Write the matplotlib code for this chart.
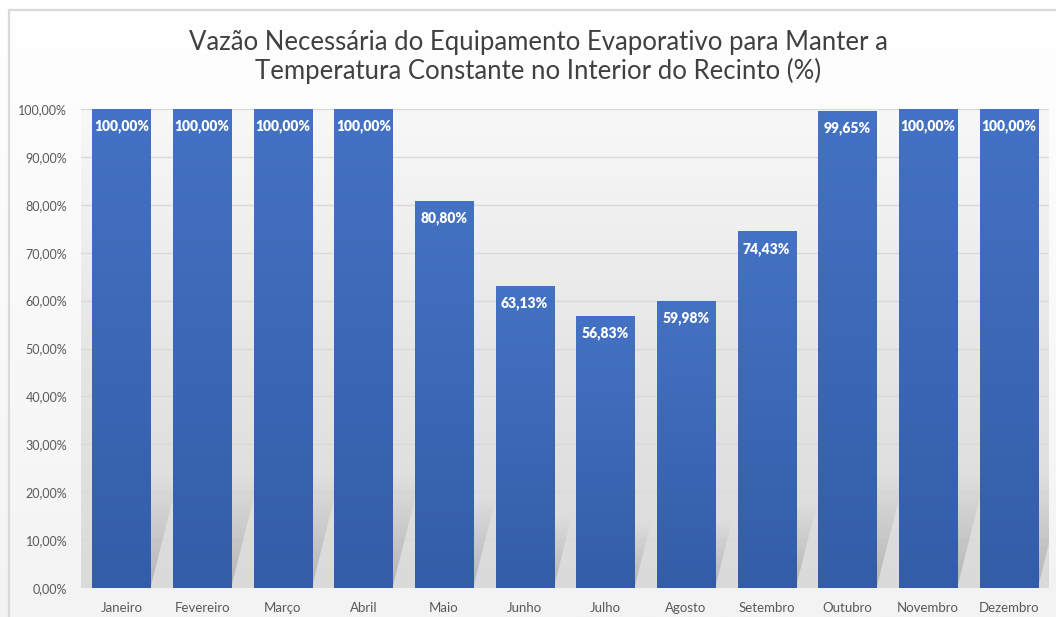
import matplotlib
matplotlib.use("Agg")
import matplotlib.pyplot as plt
import numpy as np
from matplotlib.patches import Rectangle, Polygon
from matplotlib.colors import LinearSegmentedColormap

meses = ["Janeiro", "Fevereiro", "Março", "Abril", "Maio", "Junho",
         "Julho", "Agosto", "Setembro", "Outubro", "Novembro", "Dezembro"]
vazao = [100.00, 100.00, 100.00, 100.00, 80.80, 63.13,
         56.83, 59.98, 74.43, 99.65, 100.00, 100.00]
yticks = np.arange(0, 101, 10)

titulo = ("Vazão Necessária do Equipamento Evaporativo para Manter a\n"
          "Temperatura Constante no Interior do Recinto (%)")

plt.rcParams['font.family'] = ['Lato', 'DejaVu Sans']

W, H = 1056, 617
fig = plt.figure(figsize=(W / 100, H / 100), dpi=100)
fig.patch.set_facecolor("white")

# fundo do gráfico com leve degradê e moldura cinza
bg = fig.add_axes([0, 0, 1, 1], zorder=-10)
bg.set_axis_off()
grad = np.linspace(0, 1, 256).reshape(-1, 1)
bg_cmap = LinearSegmentedColormap.from_list("bg", ["#ffffff", "#f3f3f3"])
bg.imshow(grad, cmap=bg_cmap, aspect="auto", extent=[0, 1, 0, 1],
          origin="upper")
bg.set_xlim(0, 1)
bg.set_ylim(0, 1)
bg.add_patch(Rectangle((8.5 / W, -0.05), 1.1, 1 - 9.5 / H + 0.05,
                       fill=False, edgecolor="#d9d9d9", lw=1.6))

ax = fig.add_axes([81 / W, (H - 588) / H, 968 / W, 479 / H])
ax.set_xlim(-0.5, len(meses) - 0.5)
ax.set_ylim(0, 100)
ax.patch.set_alpha(0)

# degradê da área de plotagem
pa_cmap = LinearSegmentedColormap.from_list("pa", ["#f8f8f8", "#e6e6e6", "#dadada"])
ax.imshow(grad, cmap=pa_cmap, aspect="auto",
          extent=[-0.5, len(meses) - 0.5, 0, 100], origin="upper", zorder=0)

for s in ax.spines.values():
    s.set_visible(False)
ax.axhline(0, color="#d9d9d9", lw=1.2, zorder=1)
ax.set_yticks(yticks)
ax.set_yticklabels([f"{v:.2f}".replace(".", ",") + "%" for v in yticks])
ax.yaxis.grid(True, color="#d9d9d9", lw=1.0, zorder=1)
ax.set_axisbelow(True)
ax.tick_params(axis="both", length=0, labelsize=9.5, labelcolor="#595959")
ax.tick_params(axis="y", pad=10, labelsize=9)
ax.tick_params(axis="x", pad=10)
ax.set_xticks(range(len(meses)))
ax.set_xticklabels(meses)

largura = 0.72
x = np.arange(len(meses))

# sombras em perspectiva atrás das barras
sombra = np.zeros((64, 2, 4))
sombra[..., :3] = 0.5
sombra[..., 3] = np.linspace(0.0, 0.4, 64).reshape(-1, 1)
for xi, v in zip(x, vazao):
    xl, xr = xi - largura / 2, xi + largura / 2
    hs = 0.24 * v
    dx = 0.36 * v / 100
    poly = Polygon([(xl, 0), (xr, 0), (xr + dx, hs), (xl + dx, hs)],
                   closed=True, facecolor="none", edgecolor="none")
    ax.add_patch(poly)
    im = ax.imshow(sombra, aspect="auto", extent=[xl, xr + dx, 0, hs],
                   origin="upper", zorder=1.5, interpolation="bilinear")
    im.set_clip_path(poly)

# barras com degradê azul
bar_cmap = LinearSegmentedColormap.from_list("barra", ["#4472c4", "#335da7"])
bars = ax.bar(x, vazao, width=largura, color="#3d68b6",
              edgecolor="#8aa5d4", linewidth=0.6, zorder=2)
for b, v in zip(bars, vazao):
    im = ax.imshow(grad, cmap=bar_cmap, aspect="auto",
                   extent=[b.get_x(), b.get_x() + b.get_width(), 0, v],
                   origin="upper", zorder=2.1)
    im.set_clip_path(b)
    ax.annotate(f"{v:.2f}".replace(".", ",") + "%", (b.get_x() + b.get_width() / 2, v),
                xytext=(0, -12.5), textcoords="offset points",
                ha="center", va="center", color="white",
                fontsize=10, fontweight="heavy", zorder=3)

ax.set_xlim(-0.5, len(meses) - 0.5)
ax.set_ylim(0, 100)

fig.text(538 / W, 1 - 57 / H, titulo, ha="center", va="center",
         fontsize=18.5, color="#404040", fontweight="normal", linespacing=1.15)

fig.savefig("out.png", dpi=100)
